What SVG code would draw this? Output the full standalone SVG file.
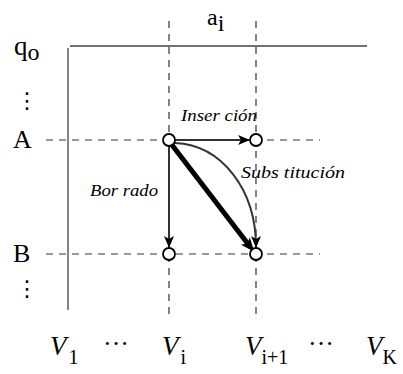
<svg xmlns="http://www.w3.org/2000/svg" width="403" height="374" viewBox="0 0 403 374">
<style>
text{font-family:"Liberation Serif","DejaVu Serif",serif;fill:#000}
.lab{font-size:26px}
.it{font-size:16px;font-style:italic}
.vv{font-size:27px;font-style:italic}
.vs{font-size:20px;font-style:normal}
.dot{font-size:22px;font-family:"DejaVu Sans",sans-serif}
.dash{stroke:#333;stroke-width:1.2;stroke-dasharray:7,6;fill:none}
.solid{stroke:#444;stroke-width:1.3;fill:none}
.arr{stroke:#333;stroke-width:2;fill:none}
.node{fill:#fff;stroke:#000;stroke-width:1.8}
</style>
<defs>
<marker id="ah" viewBox="0 0 12 10" refX="11" refY="5" markerWidth="12" markerHeight="10" markerUnits="userSpaceOnUse" orient="auto">
<path d="M0,0 L12,5 L0,10 L3,5 Z" fill="#000"/>
</marker>
<marker id="ahb" viewBox="0 0 12 10" refX="9" refY="5" markerWidth="14" markerHeight="12" markerUnits="userSpaceOnUse" orient="auto">
<path d="M0,0 L12,5 L0,10 L3,5 Z" fill="#000"/>
</marker>
</defs>
<g id="grid">
<line class="solid" x1="70" y1="46" x2="367" y2="46"/>
<line class="solid" x1="68" y1="48" x2="68" y2="310"/>
<line class="dash" x1="169" y1="21" x2="169" y2="316"/>
<line class="dash" x1="256" y1="21" x2="256" y2="316"/>
<line class="dash" x1="46" y1="140" x2="320" y2="140"/>
<line class="dash" x1="46" y1="254" x2="320" y2="254"/>
</g>
<g id="connectors">
<line class="arr" x1="175" y1="140" x2="249" y2="140" marker-end="url(#ah)"/>
<line class="arr" x1="169" y1="146" x2="169" y2="247" marker-end="url(#ah)"/>
<path class="arr" d="M175,143 C222,145 256,190 256,247" marker-end="url(#ah)"/>
<line x1="172" y1="145" x2="248" y2="244" stroke="#000" stroke-width="5"/>
<line x1="247" y1="243" x2="252" y2="249" stroke="none" marker-end="url(#ahb)"/>
</g>
<g id="n1"><circle class="node" cx="169" cy="140" r="6"/></g>
<g id="n2"><circle class="node" cx="256" cy="140" r="6"/></g>
<g id="n3"><circle class="node" cx="169" cy="254" r="6"/></g>
<g id="n4"><circle class="node" cx="256" cy="254" r="6"/></g>
<g id="labels">
<text x="207" y="25" font-size="24">a<tspan font-size="24" dy="6">i</tspan></text>
<text x="14" y="55" font-size="27">q<tspan font-size="24" dy="5">o</tspan></text>
<text class="dot" x="16" y="108">⋮</text>
<text class="lab" x="13" y="148">A</text>
<text class="lab" x="13" y="262">B</text>
<text class="dot" x="16" y="296">⋮</text>
<text class="it" x="181" y="121" textLength="76" lengthAdjust="spacingAndGlyphs">Inser ción</text>
<text class="it" x="241" y="178" textLength="104" lengthAdjust="spacingAndGlyphs">Subs titución</text>
<text class="it" x="90" y="196" textLength="68" lengthAdjust="spacingAndGlyphs">Bor rado</text>
<text class="vv" x="50" y="355">V<tspan class="vs" dx="2" dy="9">1</tspan></text>
<text class="lab" x="103" y="352">···</text>
<text class="vv" x="162" y="355">V<tspan class="vs" dx="2" dy="9">i</tspan></text>
<text class="vv" x="245" y="355">V<tspan class="vs" dx="0" dy="9">i+1</tspan></text>
<text class="lab" x="308" y="352">···</text>
<text class="vv" x="366" y="355">V<tspan class="vs" dx="0" dy="9">K</tspan></text>
</g>
</svg>
